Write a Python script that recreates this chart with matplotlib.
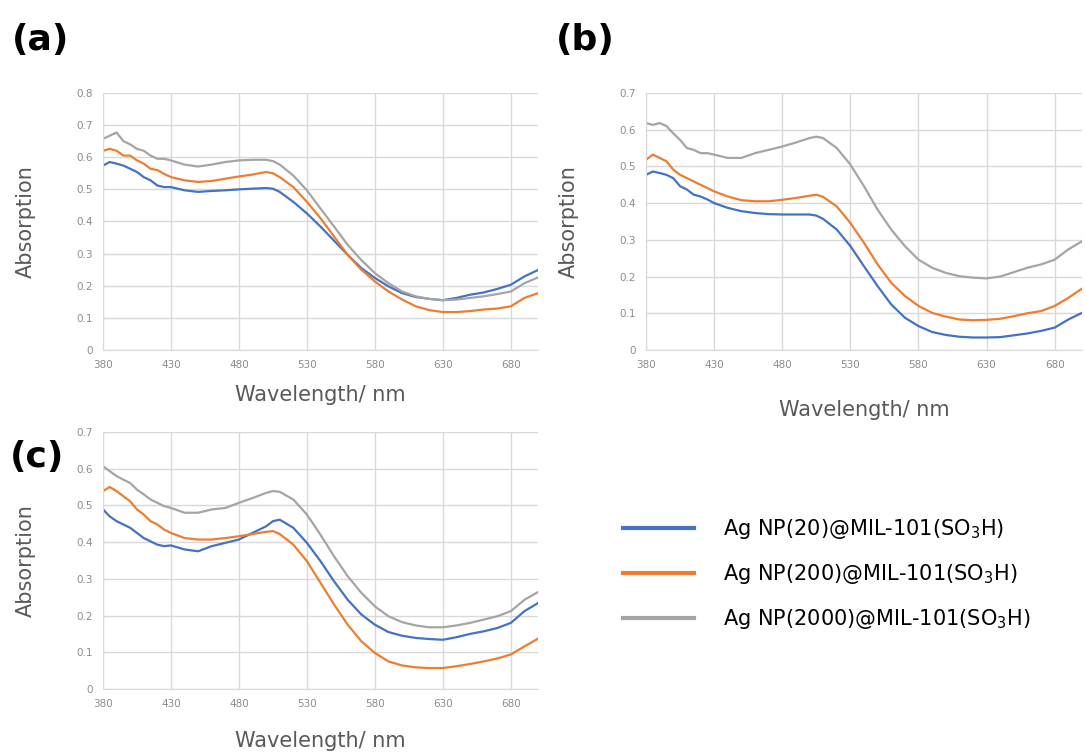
#-------------------------------------------------------------------------------
# UV-Vis absorption spectra of Ag NP@MIL-101(SO3H) - three panels
#-------------------------------------------------------------------------------
import matplotlib
matplotlib.use("Agg")
import matplotlib.pyplot as plt
from matplotlib.ticker import FuncFormatter
#-------------------------------------------------------------------------------
# Data
#-------------------------------------------------------------------------------
wavelength = [380, 385, 390, 395, 400, 405, 410, 415, 420, 425, 430, 440, 450,
              460, 470, 480, 490, 500, 505, 510, 520, 530, 540, 550, 560, 570,
              580, 590, 600, 610, 620, 630, 640, 650, 660, 670, 680, 690, 700]

a_np20 = [.574, .585, .580, .574, .564, .554, .538, .528, .512, .507, .507, .497, .492,
          .495, .497, .500, .502, .504, .502, .492, .461, .425, .384, .340, .296, .255,
          .224, .198, .177, .165, .159, .155, .162, .172, .179, .190, .203, .229, .249]
a_np200 = [.620, .626, .620, .605, .605, .590, .580, .564, .560, .548, .538, .528, .523,
           .526, .533, .540, .546, .554, .550, .538, .507, .461, .410, .353, .296, .250,
           .213, .182, .157, .136, .124, .118, .118, .121, .126, .129, .136, .162, .177]
a_np2000 = [.657, .667, .677, .650, .640, .626, .620, .605, .595, .595, .590, .577, .571,
            .577, .585, .590, .592, .592, .588, .577, .543, .497, .440, .384, .327, .280,
            .239, .208, .182, .167, .159, .155, .157, .162, .167, .174, .182, .208, .226]

b_np20 = [.477, .486, .482, .477, .468, .446, .437, .423, .418, .410, .400, .387, .378,
          .373, .370, .369, .369, .369, .366, .357, .328, .283, .228, .174, .124, .088,
          .065, .049, .041, .036, .034, .034, .035, .040, .045, .052, .061, .083, .101]
b_np200 = [.518, .532, .523, .514, .491, .477, .468, .459, .450, .441, .432, .418, .408,
           .405, .405, .409, .414, .420, .423, .417, .391, .346, .292, .233, .183, .147,
           .120, .101, .091, .083, .081, .082, .085, .092, .100, .106, .120, .142, .167]
b_np2000 = [.618, .613, .618, .610, .590, .572, .550, .545, .536, .536, .532, .523, .523,
            .536, .545, .554, .565, .577, .581, .577, .550, .505, .446, .382, .328, .283,
            .246, .224, .210, .201, .197, .195, .200, .212, .224, .233, .246, .274, .296]

c_np20 = [.489, .470, .457, .448, .439, .425, .411, .402, .393, .389, .391, .380, .375,
          .389, .398, .407, .425, .443, .457, .461, .439, .398, .348, .293, .243, .203,
          .175, .155, .145, .139, .136, .134, .141, .150, .157, .166, .180, .212, .234]
c_np200 = [.539, .550, .539, .525, .511, .489, .475, .457, .448, .434, .425, .411, .407,
           .407, .411, .416, .422, .428, .430, .422, .393, .348, .289, .230, .175, .130,
           .098, .075, .064, .059, .057, .057, .062, .068, .075, .083, .094, .116, .137]
c_np2000 = [.607, .593, .580, .570, .561, .543, .530, .516, .507, .498, .493, .480, .480,
            .489, .493, .507, .520, .534, .539, .537, .516, .475, .420, .361, .307, .262,
            .225, .198, .182, .173, .168, .168, .173, .180, .189, .198, .212, .243, .264]

series_names = [r"Ag NP(20)@MIL-101(SO$_\mathregular{3}$H)",
                r"Ag NP(200)@MIL-101(SO$_\mathregular{3}$H)",
                r"Ag NP(2000)@MIL-101(SO$_\mathregular{3}$H)"]
colors = ["#4472C4", "#ED7D31", "#A5A5A5"]
x_ticks = [380, 430, 480, 530, 580, 630, 680]
#-------------------------------------------------------------------------------
# Figure
#-------------------------------------------------------------------------------
fig = plt.figure(figsize=(10.85, 7.52), dpi=100)

panels = [
    # label, data, ymax, axes rect, label pos, xlabel offset
    ("(a)", [a_np20, a_np200, a_np2000], 0.8, [0.0949, 0.5346, 0.401, 0.3418], (12, 40), -0.136),
    ("(b)", [b_np20, b_np200, b_np2000], 0.7, [0.5954, 0.5346, 0.4018, 0.3418], (556, 40), -0.195),
    ("(c)", [c_np20, c_np200, c_np2000], 0.7, [0.0949, 0.0838, 0.401, 0.3418], (10, 457), -0.165),
]

grid_col = "#d9d9d9"
handles = []
for label, data, ymax, rect, lpos, xl_off in panels:
    ax = fig.add_axes(rect)
    lines = []
    for ys, col in zip(data, colors):
        ln, = ax.plot(wavelength, ys, color=col, lw=1.6)
        lines.append(ln)
    handles = lines

    ax.set_xlim(380, 700)
    ax.set_ylim(0, ymax)
    ax.set_xticks(x_ticks)
    ax.set_yticks([i / 10 for i in range(int(round(ymax * 10)) + 1)])
    ax.yaxis.set_major_formatter(FuncFormatter(lambda v, p: "0" if v == 0 else "%.1f" % v))
    ax.grid(True, color=grid_col, lw=1)
    ax.set_axisbelow(True)
    for s in ["top", "right"]:
        ax.spines[s].set_visible(False)
    for s in ["left", "bottom"]:
        ax.spines[s].set_color(grid_col)
    ax.tick_params(length=0, labelsize=7.5, colors="#8c8c8c", pad=7)

    ax.set_ylabel("Absorption", fontsize=15, color="#595959")
    ax.yaxis.set_label_coords(-0.155, 0.5)
    ax.set_xlabel("Wavelength/ nm", fontsize=15, color="#595959")
    ax.xaxis.set_label_coords(0.5, xl_off)

    fig.text(lpos[0] / 1085, 1 - lpos[1] / 752, label, fontsize=26,
             fontweight="bold", ha="left", va="center")
#-------------------------------------------------------------------------------
# Legend
#-------------------------------------------------------------------------------
fig.legend(handles, series_names, loc="center left",
           bbox_to_anchor=(623 / 1085, 1 - 574 / 752), frameon=False,
           fontsize=15, handlelength=3.4, handletextpad=1.4, labelspacing=1.0,
           borderpad=0, borderaxespad=0)
for ln in fig.legends[0].get_lines():
    ln.set_linewidth(3)

fig.savefig("out.png", dpi=100)
